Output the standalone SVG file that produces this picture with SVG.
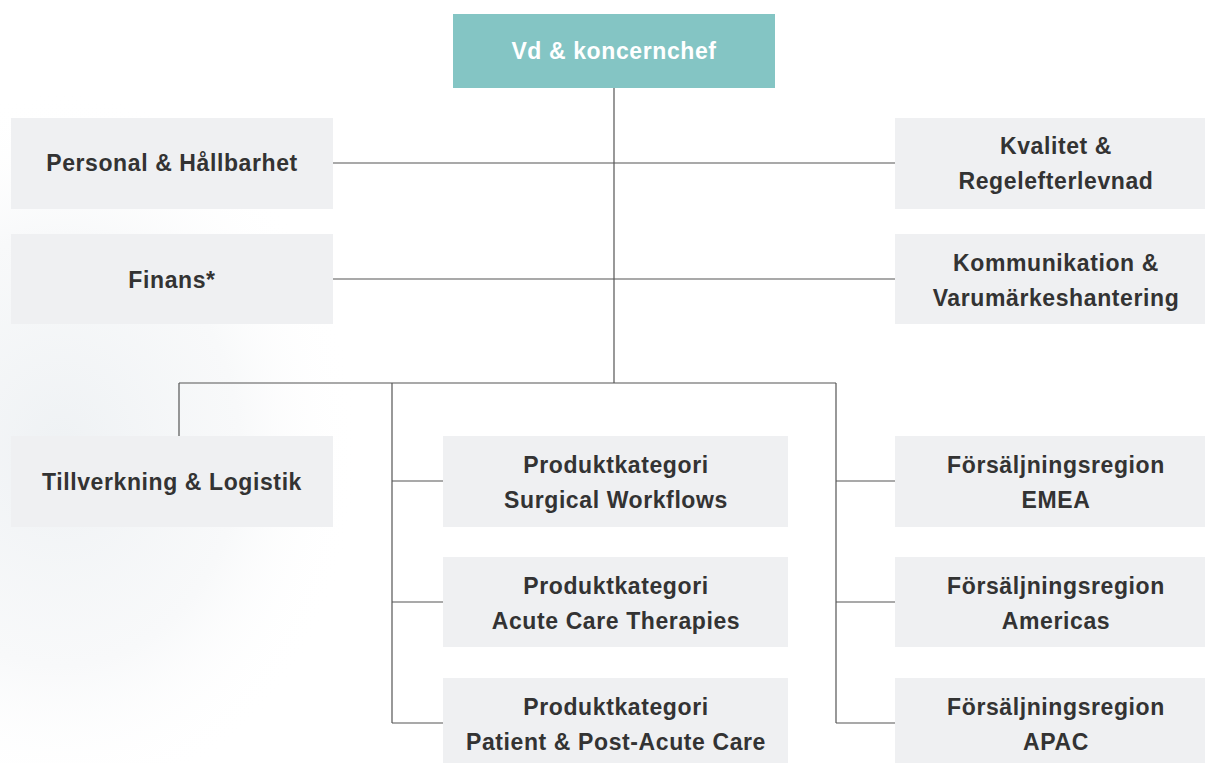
<svg xmlns="http://www.w3.org/2000/svg" width="1205" height="763" viewBox="0 0 1205 763">
<defs>
<radialGradient id="glow" cx="0.5" cy="0.5" r="0.5">
<stop offset="0" stop-color="#eaeef1" stop-opacity="0.8"/>
<stop offset="0.6" stop-color="#f1f3f5" stop-opacity="0.5"/>
<stop offset="1" stop-color="#ffffff" stop-opacity="0"/>
</radialGradient>
<style>
.box{fill:#eff0f2}
.top{fill:#84c5c4}
.t{font-family:"Liberation Sans",Arial,sans-serif;font-weight:bold;font-size:23px;fill:#333333;text-anchor:middle;letter-spacing:0.6px}
.tw{fill:#ffffff}
.ln{stroke:#555555;stroke-width:1.2;fill:none}
</style>
</defs>
<rect width="1205" height="763" fill="#ffffff"/>
<ellipse cx="60" cy="450" rx="300" ry="360" fill="url(#glow)"/>
<g id="connectors">
<path class="ln" d="M614 88V383M333 163H895M333 279H895M179 383H836M179 383V436M392 383V723M392 481H443M392 602H443M392 723H443M836 383V723M836 481H895M836 602H895M836 723H895"/>
</g>
<g id="n-vd"><rect class="top" x="453" y="14" width="322" height="74"/><text class="t tw" x="614" y="59">Vd &amp; koncernchef</text></g>
<g id="n-personal"><rect class="box" x="11" y="118" width="322" height="91"/><text class="t" x="172" y="171">Personal &amp; Hållbarhet</text></g>
<g id="n-finans"><rect class="box" x="11" y="234" width="322" height="90"/><text class="t" x="172" y="288">Finans*</text></g>
<g id="n-kvalitet"><rect class="box" x="895" y="118" width="310" height="91"/><text class="t" x="1056" y="154">Kvalitet &amp;</text><text class="t" x="1056" y="189">Regelefterlevnad</text></g>
<g id="n-kommunikation"><rect class="box" x="895" y="234" width="310" height="90"/><text class="t" x="1056" y="271">Kommunikation &amp;</text><text class="t" x="1056" y="306">Varumärkeshantering</text></g>
<g id="n-tillverkning"><rect class="box" x="11" y="436" width="322" height="91"/><text class="t" x="172" y="490">Tillverkning &amp; Logistik</text></g>
<g id="n-surgical"><rect class="box" x="443" y="436" width="345" height="91"/><text class="t" x="616" y="473">Produktkategori</text><text class="t" x="616" y="508">Surgical Workflows</text></g>
<g id="n-acute"><rect class="box" x="443" y="557" width="345" height="90"/><text class="t" x="616" y="594">Produktkategori</text><text class="t" x="616" y="629">Acute Care Therapies</text></g>
<g id="n-patient"><rect class="box" x="443" y="678" width="345" height="90"/><text class="t" x="616" y="715">Produktkategori</text><text class="t" x="616" y="750">Patient &amp; Post-Acute Care</text></g>
<g id="n-emea"><rect class="box" x="895" y="436" width="310" height="91"/><text class="t" x="1056" y="473">Försäljningsregion</text><text class="t" x="1056" y="508">EMEA</text></g>
<g id="n-americas"><rect class="box" x="895" y="557" width="310" height="90"/><text class="t" x="1056" y="594">Försäljningsregion</text><text class="t" x="1056" y="629">Americas</text></g>
<g id="n-apac"><rect class="box" x="895" y="678" width="310" height="90"/><text class="t" x="1056" y="715">Försäljningsregion</text><text class="t" x="1056" y="750">APAC</text></g>
</svg>
